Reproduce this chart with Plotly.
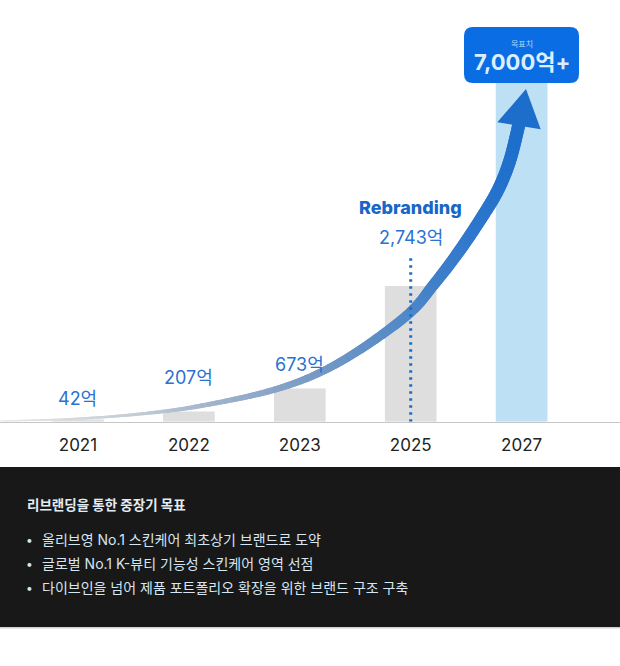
import plotly.graph_objects as go

W, H = 620, 666

# data
years = ["2021", "2022", "2023", "2025", "2027"]
sales = [42, 207, 673, 2743, 7000]          # 억 원
value_labels = ["42억", "207억", "673억", "2,743억"]
label_shift = [21, 34, 24, 49]               # px above bar top
bar_colors = ["#dedede", "#dedede", "#dedede", "#dedede", "#bee0f5"]

goal_caption = "목표치"
goal_label = "7,000억+"
rebrand_year = "2025"
rebrand_label = "Rebranding"

panel_title = "리브랜딩을 통한 중장기 목표"
panel_items = [
    "올리브영 No.1 스킨케어 최초상기 브랜드로 도약",
    "글로벌 No.1 K-뷰티 기능성 스킨케어 영역 선점",
    "다이브인을 넘어 제품 포트폴리오 확장을 위한 브랜드 구조 구축",
]

# decorative growth arrow (pixel coords, drawn over the bars)
arrow_path = [(0, 421), (70, 419), (135, 414.5), (200, 406), (280, 388),
              (340, 362), (405, 317), (435, 283), (460, 250), (482, 217),
              (498, 190), (510, 160), (519.5, 122)]
arrow_head = [(526, 89), (497.3, 122.3), (540.7, 129.3)]
arrow_width = [(0, 1), (135, 3), (200, 4.5), (300, 7), (405, 10), (460, 12), (520, 13)]
arrow_color = [(0, (230, 230, 230)), (135, (196, 204, 214)), (200, (165, 182, 204)),
               (300, (123, 157, 197)), (405, (80, 136, 200)), (460, (52, 122, 204)),
               (520, (28, 110, 205))]

FONT = "Inter, 'Noto Sans CJK KR', sans-serif"
BASE = 421.7        # px of x axis line
SCALE = 0.04947     # px per 억


def pp(x, y):
    return x / W, 1 - y / H


def interp(stops, x):
    if x <= stops[0][0]:
        return stops[0][1]
    for (x0, v0), (x1, v1) in zip(stops, stops[1:]):
        if x <= x1:
            f = (x - x0) / (x1 - x0)
            if isinstance(v0, tuple):
                return tuple(a + (b - a) * f for a, b in zip(v0, v1))
            return v0 + (v1 - v0) * f
    return stops[-1][1]


fig = go.Figure(go.Bar(
    x=years, y=sales, width=0.466,
    marker=dict(color=bar_colors, line_width=0),
    hoverinfo="skip",
))

# smooth arrow shaft (catmull-rom -> bezier samples)
ext = [arrow_path[0]] + arrow_path + [arrow_path[-1]]
samples = []
for i in range(len(arrow_path) - 1):
    p0, p1, p2, p3 = ext[i], ext[i + 1], ext[i + 2], ext[i + 3]
    c1 = (p1[0] + (p2[0] - p0[0]) / 6, p1[1] + (p2[1] - p0[1]) / 6)
    c2 = (p2[0] - (p3[0] - p1[0]) / 6, p2[1] - (p3[1] - p1[1]) / 6)
    n = 10
    for j in range(n):
        t = j / n
        a, b, c, d = (1 - t) ** 3, 3 * (1 - t) ** 2 * t, 3 * (1 - t) * t ** 2, t ** 3
        samples.append((a * p1[0] + b * c1[0] + c * c2[0] + d * p2[0],
                        a * p1[1] + b * c1[1] + c * c2[1] + d * p2[1]))
samples.append(arrow_path[-1])

for k in range(len(samples) - 1):
    seg = samples[k:k + 3]
    xm = samples[k][0]
    r, g, b = interp(arrow_color, xm)
    path = "M " + " L ".join("%.5f,%.5f" % pp(x, y) for x, y in seg)
    fig.add_shape(type="path", path=path, xref="paper", yref="paper",
                  line=dict(color="rgb(%d,%d,%d)" % (r, g, b), width=interp(arrow_width, xm)),
                  layer="above")

head = "M " + " L ".join("%.5f,%.5f" % pp(x, y) for x, y in arrow_head) + " Z"
fig.add_shape(type="path", path=head, xref="paper", yref="paper",
              fillcolor="#1d6ecb", line=dict(width=0), layer="above")

# rebranding dotted marker
ri = years.index(rebrand_year)
fig.add_shape(type="line", xref="x", yref="y", x0=ri, x1=ri, y0=0, y1=3350,
              line=dict(color="#1a6dcc", width=3, dash="2.5px,4.5px"), layer="above")

# goal box
bx0, by0, bx1, by1, rad = 464, 27, 579, 83, 9
box = ("M %f,%f L %f,%f Q %f,%f %f,%f L %f,%f Q %f,%f %f,%f L %f,%f Q %f,%f %f,%f "
       "L %f,%f Q %f,%f %f,%f Z") % (
    *pp(bx0 + rad, by0), *pp(bx1 - rad, by0), *pp(bx1, by0), *pp(bx1, by0 + rad),
    *pp(bx1, by1 - rad), *pp(bx1, by1), *pp(bx1 - rad, by1),
    *pp(bx0 + rad, by1), *pp(bx0, by1), *pp(bx0, by1 - rad),
    *pp(bx0, by0 + rad), *pp(bx0, by0), *pp(bx0 + rad, by0))
fig.add_shape(type="path", path=box, xref="paper", yref="paper",
              fillcolor="#0a6de3", line=dict(width=0), layer="above")

# bottom panel
fig.add_shape(type="rect", xref="paper", yref="paper", x0=0, x1=1,
              y0=1 - 627 / H, y1=1 - 467 / H, fillcolor="#181818", line_width=0)
fig.add_shape(type="line", xref="paper", yref="paper", x0=0, x1=1,
              y0=1 - 627.8 / H, y1=1 - 627.8 / H, line=dict(color="#d2d2d2", width=1.6))

# value labels
for i, (v, lab, sh) in enumerate(zip(sales, value_labels, label_shift)):
    fig.add_annotation(x=i, y=v, text=lab, showarrow=False, yanchor="middle", yshift=sh,
                       font=dict(family=FONT, size=18, color="#2a72cf"))

fig.add_annotation(x=ri, y=sales[ri], text=rebrand_label, showarrow=False,
                   yanchor="middle", yshift=79,
                   font=dict(family=FONT, size=18, color="#1766c8", weight=800))

gi = len(years) - 1
fig.add_annotation(x=gi, yref="paper", y=1 - 44 / H, yanchor="middle", text=goal_caption,
                   showarrow=False, font=dict(family=FONT, size=8, color="#b4d6f6"))
fig.add_annotation(x=gi, yref="paper", y=1 - 62 / H, yanchor="middle", text=goal_label,
                   showarrow=False, font=dict(family=FONT, size=22, color="#dcefff", weight=700))

fig.add_annotation(xref="paper", yref="paper", x=25 / W, y=1 - 505 / H, xanchor="left",
                   yanchor="middle", text=panel_title, showarrow=False,
                   font=dict(family=FONT, size=13.5, color="#e2ecf5", weight=700))
for i, item in enumerate(panel_items):
    yy = 1 - (539 + 24 * i) / H
    fig.add_annotation(xref="paper", yref="paper", x=29 / W, y=yy, xanchor="center",
                       yanchor="middle", text="•", showarrow=False,
                       font=dict(family=FONT, size=12, color="#d6e6f2"))
    fig.add_annotation(xref="paper", yref="paper", x=40 / W, y=yy, xanchor="left",
                       yanchor="middle", text=item, showarrow=False,
                       font=dict(family=FONT, size=14, color="#d6e6f2"))

fig.update_layout(
    width=W, height=H,
    margin=dict(l=0, r=0, t=0, b=0),
    paper_bgcolor="white", plot_bgcolor="white",
    showlegend=False,
    xaxis=dict(type="category", range=[-0.703, 4.887], showline=True, linecolor="#c6c6c6",
               linewidth=1, showgrid=False, zeroline=False, ticks="", ticklabelstandoff=8,
               tickfont=dict(family=FONT, size=17, color="#222222"), fixedrange=True),
    yaxis=dict(domain=[1 - BASE / H, 1], range=[0, BASE / SCALE], visible=False,
               fixedrange=True),
)

fig.write_html("out.html", config={"displayModeBar": False},
               post_script="document.body.style.margin='0';")
